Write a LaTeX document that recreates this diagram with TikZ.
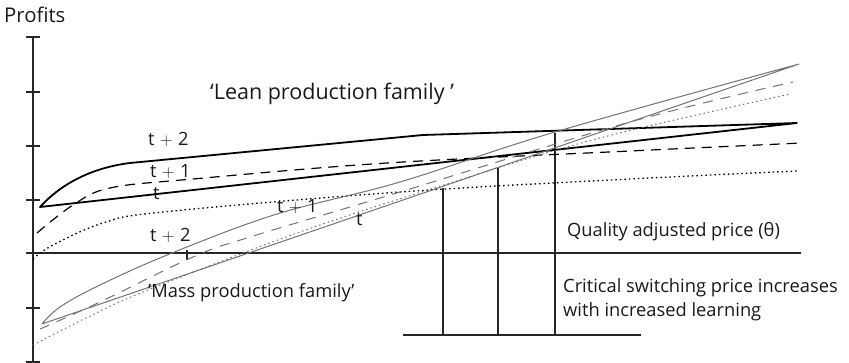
\documentclass[tikz,border=0pt]{standalone}
\usepackage{fontspec}
\setmainfont{Open Sans}
\newcommand{\tplus}[1]{t\hspace{0.3em}$+$\hspace{0.3em}#1}
\begin{document}
\begin{tikzpicture}[x=1pt,y=-1pt,
  lbl/.style={anchor=base west, inner sep=0pt, font=\fontsize{18.3}{22}\selectfont, text=black!90},
  axis/.style={line width=1.2pt, black!85},
  lean/.style={line width=1.8pt, black, line join=round},
  leandash/.style={line width=1.2pt, black, dash pattern=on 10pt off 7pt},
  leandot/.style={line width=1.3pt, black, dash pattern=on 1.5pt off 3pt},
  mass/.style={line width=1pt, black!55, line join=round},
  massdash/.style={line width=1pt, black!55, dash pattern=on 10pt off 8pt},
  massdot/.style={line width=1pt, black!55, dash pattern=on 1.5pt off 3pt},
  guide/.style={line width=1.2pt, black!85}]

\useasboundingbox (0,0) rectangle (849,363);

% axes
\coordinate (ytop) at (33,37);
\coordinate (ybot) at (33,363);
\coordinate (xl) at (26,253);
\coordinate (xr) at (801,253);
\draw[axis] (ytop) -- (ybot);
\draw[axis] (xl) -- (xr);
\foreach \y in {37,92,146,200,308,362}
  \draw[axis] (26,\y) -- (40,\y);
\draw[axis] (187,250) -- (187,260);

% critical switching prices
\draw[guide] (443,188) -- (443,335);
\draw[guide] (498,168) -- (498,335);
\draw[guide] (555,133) -- (555,335);
\draw[guide] (403,335) -- (641,335);

% lean production family
\draw[lean] (40,207) .. controls (60,185) and (90,168) .. (130,163)
  -- (423,135) -- (797,123) -- cycle;
\draw[leandash] plot[smooth, tension=0.6] coordinates
  {(37,233) (73,205) (110,188) (193,179) (387,163) (630,151) (802,143)};
\draw[leandot] plot[smooth, tension=0.6] coordinates
  {(33,259) (53,245) (103,223) (163,212) (400,192) (630,179) (797,171)};

% mass production family
\draw[mass] plot[smooth, tension=0.6] coordinates
  {(42,324) (60,307) (100,285) (172,253) (277,214) (400,182) (555,132) (799,64)}
  -- cycle;
\draw[massdash] plot[smooth, tension=0.6] coordinates
  {(40,329) (100,302) (193,257) (250,237) (400,192) (630,122) (793,82)};
\draw[massdot] plot[smooth, tension=0.6] coordinates
  {(33,345) (90,316) (148,290) (300,232) (450,183) (600,138) (790,94)};

% labels
\node[lbl, font=\fontsize{20.3}{24}\selectfont] (profits) at (4,23) {Profits};
\node[lbl, font=\fontsize{21.5}{26}\selectfont] (lean) at (210,100) {‘Lean production family ’};
\node[lbl] (l2) at (148,146) {\tplus{2}};
\node[lbl] (l1) at (150,178) {\tplus{1}};
\node[lbl] (l0) at (153,200) {t};
\node[lbl] (m2) at (150,242) {\tplus{2}};
\node[lbl] (m1) at (277,213) {\tplus{1}};
\node[lbl] (m0) at (356,226) {t};
\node[lbl] (mass) at (148,298) {’Mass production family’};
\node[lbl] (theta) at (567,237) {Quality adjusted price (θ)};
\node[lbl] (crit1) at (563,293) {Critical switching price increases};
\node[lbl] (crit2) at (563,317) {with increased learning};
\end{tikzpicture}
\end{document}
